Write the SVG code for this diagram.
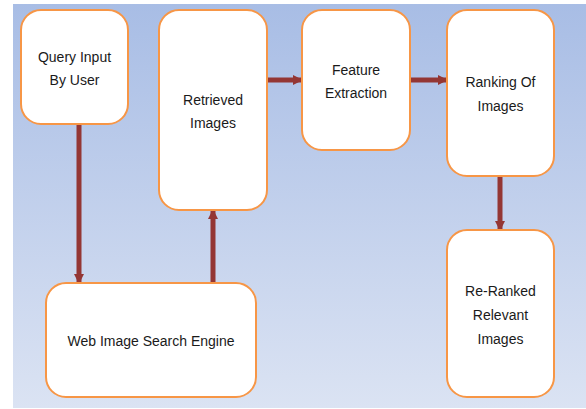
<svg xmlns="http://www.w3.org/2000/svg" width="586" height="409" viewBox="0 0 586 409">
<defs>
<linearGradient id="bg" x1="0" y1="0" x2="0" y2="1">
<stop offset="0" stop-color="#a8bde5"/>
<stop offset="1" stop-color="#dbe3f3"/>
</linearGradient>
<marker id="ah" viewBox="0 0 10 10" refX="9" refY="5" markerWidth="2" markerHeight="2.4" orient="auto" markerUnits="strokeWidth">
<path d="M0,0 L10,5 L0,10 Z" fill="#943634"/>
</marker>
<style>
.box{fill:#ffffff;stroke:#f79646;stroke-width:2}
.t{font-family:"Liberation Sans",Arial,sans-serif;font-size:14px;fill:#1a1a1a;text-anchor:middle}
.c{stroke:#943634;stroke-width:5;fill:none;marker-end:url(#ah)}
</style>
</defs>
<rect x="0" y="0" width="586" height="409" fill="#ffffff"/>
<rect x="13" y="4" width="573" height="404" fill="url(#bg)"/>
<g id="connectors">
<path class="c" d="M79,124 V283"/>
<path class="c" d="M213,283 V210"/>
<path class="c" d="M267,80 H302"/>
<path class="c" d="M410,80 H447"/>
<path class="c" d="M500,176 V230"/>
</g>
<g id="query">
<rect class="box" x="21" y="10" width="107" height="114" rx="20"/>
<text class="t" x="74.5" y="62">Query Input</text>
<text class="t" x="74.5" y="85">By User</text>
</g>
<g id="retrieved">
<rect class="box" x="159" y="10" width="108" height="200" rx="20"/>
<text class="t" x="213" y="105">Retrieved</text>
<text class="t" x="213" y="128">Images</text>
</g>
<g id="feature">
<rect class="box" x="302" y="10" width="108" height="140" rx="20"/>
<text class="t" x="356" y="75">Feature</text>
<text class="t" x="356" y="98">Extraction</text>
</g>
<g id="ranking">
<rect class="box" x="447" y="10" width="107" height="166" rx="20"/>
<text class="t" x="500.5" y="87">Ranking Of</text>
<text class="t" x="500.5" y="111">Images</text>
</g>
<g id="reranked">
<rect class="box" x="447" y="230" width="107" height="167" rx="20"/>
<text class="t" x="500.5" y="296">Re-Ranked</text>
<text class="t" x="500.5" y="320">Relevant</text>
<text class="t" x="500.5" y="344">Images</text>
</g>
<g id="engine">
<rect class="box" x="46" y="283" width="210" height="114" rx="20"/>
<text class="t" x="151" y="346">Web Image Search Engine</text>
</g>
</svg>
